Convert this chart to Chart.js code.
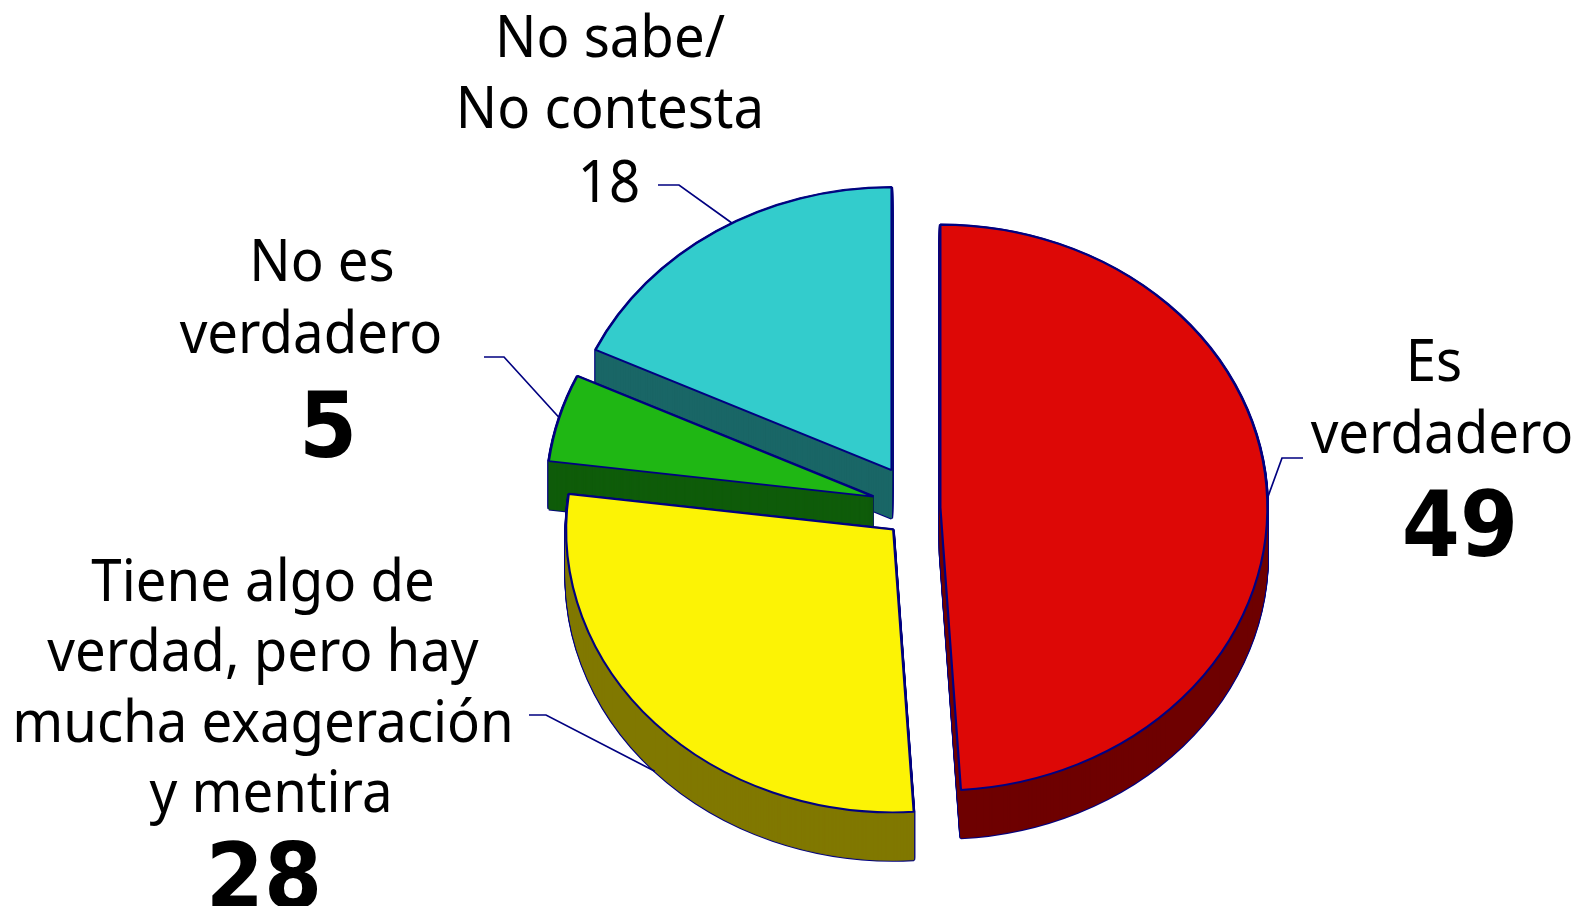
<!DOCTYPE html>
<html>
<head>
<meta charset="utf-8">
<style>
html, body { margin: 0; padding: 0; background: #fff; overflow: hidden; }
#pie { display: block; }
</style>
<script src="https://cdn.jsdelivr.net/npm/chart.js@4"></script>
</head>
<body>
<canvas id="pie" width="1576" height="906"></canvas>
<script>
var categories = ["Es verdadero", "Tiene algo de verdad, pero hay mucha exageración y mentira", "No es verdadero", "No sabe/No contesta"];
var values = [49, 28, 5, 18];
var valueLabels = ["49", "28", "5", "18"];

var topColors = ["#DD0806", "#FCF305", "#1FB714", "#33CCCC"];
var wallColors = ["#6E0000", "#807800", "#0F5C0A", "#1A6666"];
var lineColor = "#000080";

// how far each slice is pulled away from the centre, in px
var explode = [21, 36, 48, 52];
var squash = 0.865;
var depth = 48;
// back to front
var drawOrder = [3, 2, 1, 0];

var FONT = '"Noto Sans"';
var BOLD_FONT = '"DejaVu Sans"';
// both faces run wider than the reference face
var textSqueeze = 0.94;
var boldSqueeze = 0.93;

// text blocks: lines are centred on x, baselines in px
var labelBlocks = [
    { lines: ["Es", "verdadero"], xs: [1434, 1442], ys: [381, 453], size: 58 },
    { lines: ["Tiene algo de", "verdad, pero hay", "mucha exageración", "y mentira"], xs: [263, 263, 263, 271], ys: [601, 671, 742, 812], size: 58 },
    { lines: ["No es", "verdadero"], xs: [322, 311], ys: [281, 353], size: 58 },
    { lines: ["No sabe/", "No contesta"], xs: [610, 610], ys: [57, 128], size: 58 }
];
var valueBlocks = [
    { i: 0, x: 1460, y: 556, size: 90, bold: true },
    { i: 1, x: 264, y: 908, size: 90, bold: true },
    { i: 2, x: 328, y: 457, size: 90, bold: true },
    { i: 3, x: 609, y: 202, size: 58, bold: false }
];
// leader elbows, the last point is where the line stops next to the text
// along = where on the slice's rim the line starts, 0..1
var leaders = [
    { elbow: [1282, 458], end: [1303, 458], along: 0.5, atBase: false },
    { elbow: [546, 715], end: [529, 715], along: 0.5, atBase: true },
    { elbow: [504, 357], end: [484, 357], along: 0.5, atBase: false },
    { elbow: [679, 185], end: [658, 185], along: 0.55, atBase: false }
];

function sliceOrigin(el, i) {
    var mid = (el.startAngle + el.endAngle) / 2;
    return { x: el.x + Math.cos(mid) * explode[i], y: el.y + Math.sin(mid) * explode[i] * squash };
}

function drawSlice(ctx, el, i, dy, fill, stroke, width) {
    var o = sliceOrigin(el, i);
    var copy = Object.create(el);
    copy.options = Object.assign({}, el.options, { backgroundColor: fill, borderColor: stroke, borderWidth: width });
    ctx.save();
    ctx.translate(o.x, o.y + dy);
    ctx.scale(1, squash);
    ctx.translate(-el.x, -el.y);
    copy.draw(ctx);
    ctx.restore();
}

function squeezedText(ctx, text, x, y, sx) {
    ctx.save();
    ctx.translate(x, y);
    ctx.scale(sx, 1);
    ctx.fillText(text, 0, 0);
    ctx.restore();
}

var pie3d = {
    id: 'pie3d',
    beforeDatasetsDraw: function (chart) {
        var ctx = chart.ctx;
        var arcs = chart.getDatasetMeta(0).data;
        drawOrder.forEach(function (i) {
            var el = arcs[i];
            var d;
            // navy silhouette first, then the dark wall inside of it
            for (d = depth; d >= 0; d--) drawSlice(ctx, el, i, d, lineColor, lineColor, 3.2);
            // thin own-colour stroke hides the bands between layers
            for (d = depth; d >= 0; d--) drawSlice(ctx, el, i, d, wallColors[i], wallColors[i], 0.8);
            drawSlice(ctx, el, i, 0, topColors[i], lineColor, 2.2);
        });
        return false;
    },
    afterDraw: function (chart) {
        var ctx = chart.ctx;
        var arcs = chart.getDatasetMeta(0).data;
        ctx.save();
        ctx.strokeStyle = lineColor;
        ctx.lineWidth = 1.7;
        leaders.forEach(function (l, i) {
            var el = arcs[i];
            var o = sliceOrigin(el, i);
            var a = el.startAngle + (el.endAngle - el.startAngle) * l.along;
            var ax = o.x + Math.cos(a) * el.outerRadius;
            var ay = o.y + Math.sin(a) * el.outerRadius * squash + (l.atBase ? depth : 0);
            ctx.beginPath();
            ctx.moveTo(ax, ay);
            ctx.lineTo(l.elbow[0], l.elbow[1]);
            ctx.lineTo(l.end[0], l.end[1]);
            ctx.stroke();
        });
        ctx.fillStyle = '#000';
        ctx.textAlign = 'center';
        ctx.textBaseline = 'alphabetic';
        labelBlocks.forEach(function (b) {
            ctx.font = b.size + 'px ' + FONT;
            b.lines.forEach(function (line, j) { squeezedText(ctx, line, b.xs[j], b.ys[j], textSqueeze); });
        });
        valueBlocks.forEach(function (b) {
            ctx.font = b.bold ? 'bold ' + b.size + 'px ' + BOLD_FONT : b.size + 'px ' + FONT;
            squeezedText(ctx, valueLabels[b.i], b.x, b.y, b.bold ? boldSqueeze : textSqueeze);
        });
        ctx.restore();
    }
};

new Chart(document.getElementById('pie').getContext('2d'), {
    type: 'pie',
    data: {
        labels: categories,
        datasets: [{ data: values, backgroundColor: topColors, borderColor: lineColor, borderWidth: 2.2 }]
    },
    options: {
        responsive: false,
        animation: false,
        layout: { padding: { left: 591.3, right: 328.5, top: 180.1, bottom: 69.7 } },
        plugins: { legend: { display: false }, tooltip: { enabled: false } }
    },
    plugins: [pie3d]
});
</script>
</body>
</html>
